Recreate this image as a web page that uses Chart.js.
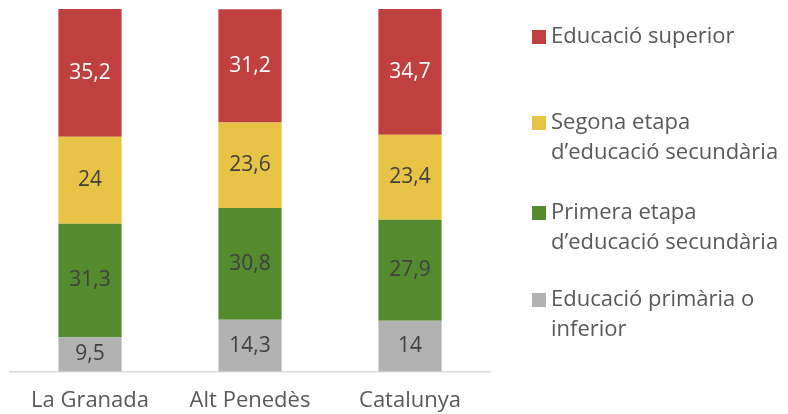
<!DOCTYPE html>
<html lang="ca">
<head>
<meta charset="UTF-8">
<script src="https://cdn.jsdelivr.net/npm/chart.js"></script>
<style>
  html, body { margin: 0; padding: 0; background: #fff; }
  #wrap { width: 788px; height: 414px; }
</style>
</head>
<body>
<div id="wrap"><canvas id="grafic"></canvas></div>
<script>
// dades
const territoris = ['La Granada', 'Alt Penedès', 'Catalunya'];
const primaria = [9.5, 14.3, 14];
const primeraEtapa = [31.3, 30.8, 27.9];
const segonaEtapa = [24, 23.6, 23.4];
const superior = [35.2, 31.2, 34.7];

const nomsSeries = [
    ['Educació primària o', 'inferior'],
    ['Primera etapa', 'd\u2019educació secundària'],
    ['Segona etapa', 'd\u2019educació secundària'],
    ['Educació superior']
];

const colors = ['#B2B2B2', '#558B2F', '#E8C446', '#C0403F'];
const colorsText = ['#404040', '#404040', '#404040', '#FFFFFF'];
const FONT = '"Open Sans", sans-serif';

// etiquetes dins de cada segment
const etiquetes = {
    id: 'etiquetes',
    afterDatasetsDraw(chart) {
        const ctx = chart.ctx;
        ctx.save();
        ctx.font = '21px ' + FONT;
        ctx.textAlign = 'center';
        ctx.textBaseline = 'middle';
        chart.data.datasets.forEach(function (ds, i) {
            chart.getDatasetMeta(i).data.forEach(function (bar, j) {
                const y = (bar.y + bar.base) / 2;
                ctx.fillStyle = colorsText[i];
                ctx.fillText(String(ds.data[j]).replace('.', ','), bar.x, y);
            });
        });
        ctx.restore();
    }
};

// llegenda a la dreta, ordre invers
const llegenda = {
    id: 'llegenda',
    afterDraw(chart) {
        const ctx = chart.ctx;
        const posY = [37, 123, 213, 300];
        ctx.save();
        ctx.font = '22px ' + FONT;
        ctx.textBaseline = 'middle';
        ctx.textAlign = 'left';
        const ds = chart.data.datasets;
        for (let k = 0; k < ds.length; k++) {
            const i = ds.length - 1 - k;
            const y = posY[k];
            ctx.fillStyle = ds[i].backgroundColor;
            ctx.fillRect(532, y - 7, 14, 14);
            ctx.fillStyle = '#595959';
            ds[i].label.forEach(function (linia, n) {
                ctx.fillText(linia, 551, y + n * 30);
            });
        }
        ctx.restore();
    }
};

const series = [primaria, primeraEtapa, segonaEtapa, superior];

const config = {
    type: 'bar',
    data: {
        labels: territoris,
        datasets: series.map(function (valors, i) {
            return {
                label: nomsSeries[i],
                data: valors,
                backgroundColor: colors[i],
                borderWidth: 0,
                barPercentage: 1,
                categoryPercentage: 0.395
            };
        })
    },
    options: {
        responsive: true,
        maintainAspectRatio: false,
        animation: false,
        layout: { padding: { left: 10, right: 298, top: 9, bottom: -8 } },
        plugins: {
            legend: { display: false },
            tooltip: { enabled: false }
        },
        scales: {
            x: {
                stacked: true,
                grid: { display: false },
                border: { display: true, color: '#D9D9D9', width: 1.5 },
                ticks: {
                    color: '#595959',
                    font: { size: 22, family: FONT },
                    padding: 8
                }
            },
            y: {
                stacked: true,
                display: false,
                min: 0,
                max: 100
            }
        }
    },
    plugins: [etiquetes, llegenda]
};

new Chart(document.getElementById('grafic'), config);
</script>
</body>
</html>
